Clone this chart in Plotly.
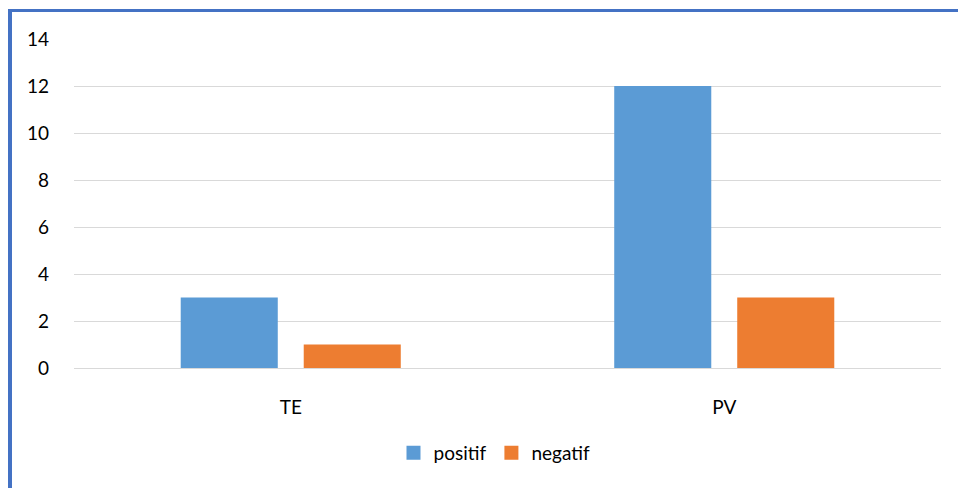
import plotly.graph_objects as go

categories = ["TE", "PV"]
positif = [3, 12]
negatif = [1, 3]
y_ticks = [0, 2, 4, 6, 8, 10, 12, 14]

W, H = 958, 488
L, R, T, B = 74, 17, 39, 120
pw, ph = W - L - R, H - T - B

BLUE, ORANGE = "#5B9BD5", "#ED7D31"


def px_x(px):
    return (px - L) / pw


def px_y(py):
    return (H - B - py) / ph


fig = go.Figure()
fig.add_trace(go.Bar(name="positif", x=categories, y=positif, showlegend=False,
                     marker=dict(color=BLUE, line=dict(width=0))))
fig.add_trace(go.Bar(name="negatif", x=categories, y=negatif, showlegend=False,
                     marker=dict(color=ORANGE, line=dict(width=0))))

# square legend keys
for name, col in [("positif", BLUE), ("negatif", ORANGE)]:
    fig.add_trace(go.Scatter(name=name, x=[None], y=[None], mode="markers",
                             marker=dict(symbol="square", size=14, color=col)))

border = "#4472C4"
shapes = [
    dict(type="rect", xref="paper", yref="paper",
         x0=px_x(8), x1=px_x(12), y0=px_y(488), y1=px_y(9),
         fillcolor=border, line=dict(width=0), layer="above"),
    dict(type="rect", xref="paper", yref="paper",
         x0=px_x(8), x1=px_x(958), y0=px_y(12), y1=px_y(9),
         fillcolor=border, line=dict(width=0), layer="above"),
]

fig.update_layout(
    width=W, height=H,
    margin=dict(l=L, r=R, t=T, b=B),
    paper_bgcolor="white", plot_bgcolor="white",
    barmode="group", bargap=0.4325, bargroupgap=0.211,
    font=dict(family="Lato, Open Sans, sans-serif", size=19, color="#000000"),
    showlegend=True,
    legend=dict(orientation="h", x=0.485, xanchor="center", y=px_y(453), yanchor="middle",
                font=dict(size=19), itemwidth=30, traceorder="normal",
                tracegroupgap=0),
    xaxis=dict(showgrid=False, showline=False, ticks="", ticklabelstandoff=26),
    yaxis=dict(range=[0, 14], tickvals=y_ticks, showgrid=True, gridcolor="#D9D9D9",
               gridwidth=1, zeroline=True, zerolinecolor="#D9D9D9", zerolinewidth=1,
               showline=False, ticks="", ticklabelstandoff=24),
    shapes=shapes,
)

fig.write_html("out.html")
